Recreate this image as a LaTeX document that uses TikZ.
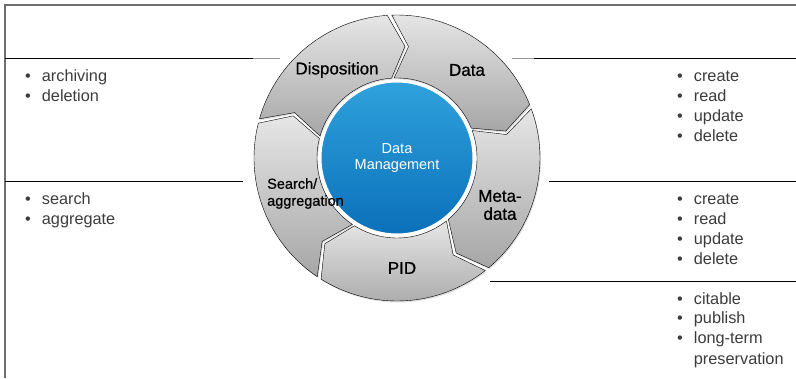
\documentclass[tikz,border=0pt]{standalone}
\usepackage{fontspec}
\setmainfont{Liberation Sans}
\newfontfamily\segfont[FakeBold=0.8]{Liberation Sans}
\usetikzlibrary{shadows}
\definecolor{listgray}{HTML}{3C3C3C}
\definecolor{framegray}{HTML}{6E6E6E}
\definecolor{fadegray}{HTML}{9A9A9A}
\definecolor{segtop}{HTML}{E6E6E6}
\definecolor{segbottom}{HTML}{A6A6A6}
\definecolor{hubtop}{HTML}{2FA2DC}
\definecolor{hubbottom}{HTML}{0B70BA}
\tikzset{
    segment/.style={
           draw=black, thin,
           top color=segtop,
           bottom color=segbottom,
           drop shadow={shadow xshift=1pt, shadow yshift=-1.5pt, opacity=0.25},
           },
    seglabel/.style={
           font=\segfont\fontsize{17}{18}\selectfont,
           text=black,
           inner sep=0pt,
           align=center,
           },
    hub/.style={
           circle,
           minimum size=154pt,
           top color=hubtop,
           bottom color=hubbottom,
           draw=white, line width=3pt,
           text=white,
           font=\fontsize{14.5}{16}\selectfont,
           align=center,
           },
    itemlist/.style={
           anchor=base west,
           inner sep=0pt,
           text=listgray,
           font=\fontsize{16.3}{20}\selectfont,
           },
    sepline/.style={black, line width=0.8pt},
}
\newcommand{\bulletlist}[1]{\begin{tabular}[t]{@{}l@{\hspace{11pt}}l@{}}#1\end{tabular}}

\begin{document}
\begin{tikzpicture}[x=1pt, y=1pt]
    \useasboundingbox (0,0) rectangle (796,378);

    % frame and separators of the table
    \draw[framegray, line width=1.2pt] (5,0) -- (5,373) -- (796,373);
    \draw[sepline] (5,320) -- (253,320);
    \draw[fadegray, line width=0.8pt] (253,320) -- (280,320);
    \draw[sepline] (5,197) -- (243,197);
    \draw[fadegray, line width=0.8pt] (512,320) -- (534,320);
    \draw[sepline] (534,320) -- (796,320);
    \draw[sepline] (549,197) -- (796,197);
    \draw[sepline] (490,97) -- (796,97);

    % the ring of arrows, clockwise
    \begin{scope}[shift={(397,220)}]
        % Data
        \path[segment] (92.1:143) arc[start angle=92.1, end angle=21.9, radius=143]
            -- (13.9:112) -- (21.9:80) arc[start angle=21.9, end angle=92.1, radius=80]
            -- (84.1:112) -- cycle;
        % Meta-data
        \path[segment] (20.1:143) arc[start angle=20.1, end angle=-50.1, radius=143]
            -- (-58.1:112) -- (-50.1:80) arc[start angle=-50.1, end angle=20.1, radius=80]
            -- (12.1:112) -- cycle;
        % PID
        \path[segment] (-51.9:143) arc[start angle=-51.9, end angle=-122.1, radius=143]
            -- (-130.1:112) -- (-122.1:80) arc[start angle=-122.1, end angle=-51.9, radius=80]
            -- (-59.9:112) -- cycle;
        % Search/aggregation
        \path[segment] (-123.9:143) arc[start angle=-123.9, end angle=-194.1, radius=143]
            -- (-202.1:112) -- (-194.1:80) arc[start angle=-194.1, end angle=-123.9, radius=80]
            -- (-131.9:112) -- cycle;
        % Disposition
        \path[segment] (-195.9:143) arc[start angle=-195.9, end angle=-266.1, radius=143]
            -- (-274.1:112) -- (-266.1:80) arc[start angle=-266.1, end angle=-195.9, radius=80]
            -- (-203.9:112) -- cycle;
    \end{scope}

    % hub in the middle
    \node[hub] (dm) at (397,220) {Data\\Management};

    % labels on the ring
    \node[seglabel] (disp) at (337,308) {Disposition};
    \node[seglabel] (data) at (467,308) {Data};
    \node[seglabel] (meta) at (500,173) {Meta-\\data};
    \node[seglabel] (pid) at (402,110) {PID};
    \node[seglabel, anchor=west, align=left,
          font=\segfont\fontsize{14.5}{17}\selectfont] (search) at (267,184.5) {Search/\\aggregation};

    % lists, left side
    \node[itemlist] (displist) at (25,296)
        {\bulletlist{\textbullet & archiving\\ \textbullet & deletion}};
    \node[itemlist] (searchlist) at (25,173.5)
        {\bulletlist{\textbullet & search\\ \textbullet & aggregate}};

    % lists, right side
    \node[itemlist] (datalist) at (677,296)
        {\bulletlist{\textbullet & create\\ \textbullet & read\\ \textbullet & update\\ \textbullet & delete}};
    \node[itemlist] (metalist) at (677,173.5)
        {\bulletlist{\textbullet & create\\ \textbullet & read\\ \textbullet & update\\ \textbullet & delete}};
    \node[itemlist] (pidlist) at (677,74)
        {\bulletlist{\textbullet & citable\\ \textbullet & publish\\ \textbullet & long-term\\ & preservation}};
\end{tikzpicture}
\end{document}
